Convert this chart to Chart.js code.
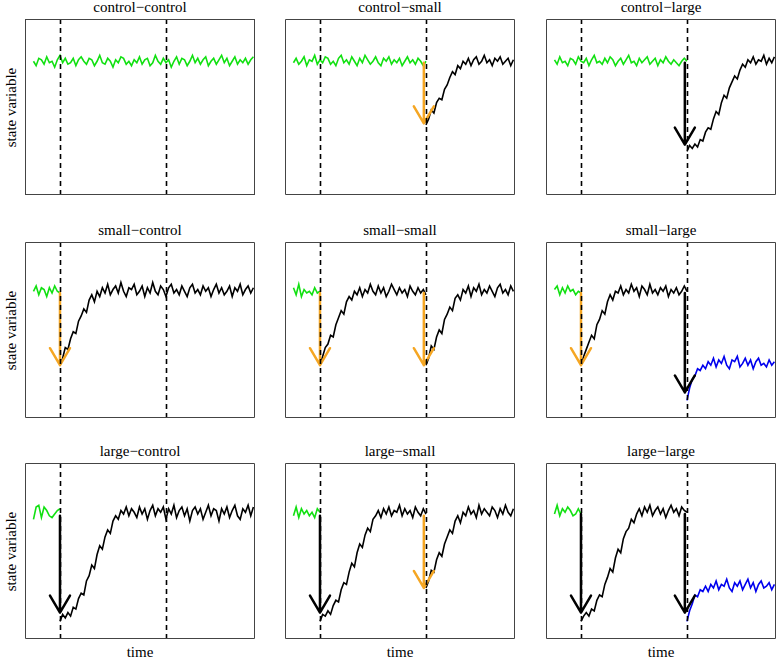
<!DOCTYPE html>
<html>
<head>
<meta charset="utf-8">
<script src="https://cdn.jsdelivr.net/npm/chart.js@4.4.1/dist/chart.umd.min.js"></script>
<style>
  body { margin: 0; background: #fff; }
  #page {
    position: relative; width: 776px; height: 661px; overflow: hidden;
    font-family: 'Liberation Serif', 'DejaVu Serif', serif; color: #000;
  }
  #page canvas { position: absolute; }
  .label { position: absolute; font-size: 15px; line-height: 15px; white-space: nowrap; text-align: center; }
  .ylab { transform: rotate(-90deg); }
</style>
</head>
<body>
<div id="page"></div>
<script>
// sampling of every series (time units); dashed lines mark the two disturbances
const timeStep = 2.5;
const disturbanceTimes = [25, 125];
const xRange = [-8, 209];

// control-control
const ccGreen = [
  0.72,0.69,0.74,0.73,0.70,0.75,0.71,0.72,0.68,0.73,
  0.76,0.71,0.74,0.70,0.71,0.74,0.69,0.73,0.75,0.72,
  0.70,0.74,0.73,0.69,0.72,0.76,0.71,0.70,0.74,0.72,
  0.68,0.73,0.71,0.75,0.74,0.70,0.72,0.69,0.73,0.71,
  0.75,0.70,0.73,0.74,0.69,0.71,0.76,0.72,0.70,0.74,
  0.71,0.73,0.68,0.72,0.75,0.70,0.74,0.73,0.69,0.72,
  0.76,0.71,0.74,0.70,0.73,0.75,0.69,0.72,0.74,0.70,
  0.73,0.76,0.71,0.74,0.69,0.72,0.75,0.70,0.73,0.71,
  0.74,0.70,0.73,0.75];

// control-small
const csGreen = [
  0.71,0.74,0.70,0.72,0.75,0.69,0.73,0.72,0.76,0.70,
  0.73,0.71,0.75,0.74,0.70,0.72,0.69,0.74,0.76,0.71,
  0.73,0.70,0.75,0.72,0.69,0.74,0.71,0.76,0.73,0.70,
  0.72,0.75,0.71,0.69,0.74,0.72,0.75,0.70,0.73,0.71,
  0.74,0.69,0.72,0.75,0.71,0.73,0.70,0.74,0.72,0.69,0.72];
const csBlack = [
  0.29,0.33,0.39,0.37,0.44,0.47,0.46,0.53,0.56,0.61,
  0.65,0.63,0.69,0.67,0.72,0.70,0.74,0.69,0.73,0.75,
  0.70,0.72,0.76,0.71,0.73,0.69,0.74,0.72,0.75,0.70,
  0.72,0.74,0.69,0.73];

// control-large
const clGreen = [
  0.73,0.70,0.75,0.71,0.72,0.69,0.74,0.73,0.70,0.75,
  0.72,0.71,0.74,0.69,0.73,0.76,0.71,0.72,0.70,0.74,
  0.71,0.75,0.73,0.69,0.72,0.74,0.70,0.73,0.76,0.71,
  0.72,0.69,0.74,0.71,0.73,0.75,0.70,0.72,0.74,0.69,
  0.73,0.71,0.75,0.72,0.70,0.73,0.71,0.69,0.72,0.74,0.72];
const clBlack = [
  0.11,0.15,0.13,0.16,0.14,0.19,0.18,0.24,0.27,0.26,
  0.33,0.38,0.36,0.44,0.49,0.47,0.54,0.58,0.62,0.60,
  0.66,0.70,0.68,0.73,0.71,0.75,0.70,0.73,0.72,0.76,
  0.70,0.74,0.71,0.75];

// small-control
const scGreen = [0.72,0.75,0.70,0.74,0.73,0.69,0.74,0.71,0.75,0.72,0.71];
const scBlack = [
  0.30,0.34,0.40,0.39,0.45,0.49,0.48,0.55,0.58,0.62,
  0.60,0.67,0.70,0.66,0.72,0.69,0.74,0.71,0.76,0.70,
  0.73,0.75,0.71,0.77,0.72,0.69,0.74,0.73,0.76,0.70,
  0.72,0.75,0.69,0.74,0.71,0.77,0.72,0.70,0.75,0.73,
  0.69,0.74,0.76,0.71,0.73,0.70,0.75,0.72,0.69,0.74,
  0.76,0.71,0.73,0.70,0.75,0.72,0.74,0.69,0.73,0.76,
  0.71,0.74,0.70,0.72,0.75,0.69,0.74,0.72,0.76,0.70,
  0.73,0.75,0.71,0.74];

// small-small
const ssGreen = [0.74,0.70,0.76,0.69,0.73,0.71,0.72,0.70,0.74,0.71,0.72];
const ssBlack1 = [
  0.30,0.35,0.40,0.42,0.47,0.46,0.53,0.57,0.61,0.59,
  0.66,0.69,0.67,0.72,0.70,0.74,0.69,0.73,0.71,0.76,
  0.72,0.70,0.75,0.71,0.74,0.69,0.72,0.76,0.73,0.70,
  0.74,0.71,0.73,0.69,0.75,0.72,0.70,0.74,0.71,0.73,0.70];
const ssBlack2 = [
  0.30,0.34,0.41,0.39,0.46,0.50,0.48,0.56,0.59,0.63,
  0.61,0.68,0.70,0.67,0.73,0.71,0.75,0.69,0.74,0.72,
  0.76,0.70,0.73,0.71,0.75,0.72,0.69,0.74,0.76,0.71,
  0.73,0.70,0.75,0.72];

// small-large
const slGreen = [0.73,0.75,0.70,0.74,0.71,0.75,0.72,0.73,0.70,0.72,0.71];
const slBlack = [
  0.30,0.35,0.39,0.43,0.47,0.45,0.53,0.56,0.61,0.59,
  0.66,0.70,0.67,0.72,0.71,0.75,0.70,0.73,0.71,0.76,
  0.72,0.74,0.69,0.75,0.73,0.70,0.76,0.71,0.73,0.70,
  0.74,0.72,0.75,0.69,0.73,0.71,0.74,0.70,0.72,0.75,0.72];
const slBlue = [
  0.10,0.17,0.22,0.24,0.28,0.27,0.30,0.28,0.32,0.30,
  0.34,0.29,0.33,0.31,0.35,0.30,0.28,0.33,0.32,0.35,
  0.29,0.31,0.34,0.30,0.33,0.28,0.32,0.34,0.30,0.31,
  0.29,0.33,0.30,0.32];

// large-control
const lcGreen = [0.68,0.75,0.76,0.69,0.75,0.73,0.70,0.69,0.71,0.73,0.74];
const lcBlack = [
  0.10,0.14,0.12,0.15,0.13,0.18,0.17,0.23,0.26,0.25,
  0.33,0.36,0.42,0.40,0.48,0.53,0.51,0.58,0.62,0.60,
  0.67,0.70,0.68,0.73,0.71,0.75,0.70,0.74,0.72,0.69,
  0.75,0.71,0.74,0.68,0.73,0.76,0.70,0.74,0.72,0.75,
  0.68,0.74,0.71,0.76,0.69,0.73,0.75,0.70,0.74,0.67,
  0.73,0.75,0.71,0.74,0.68,0.72,0.76,0.70,0.74,0.73,
  0.67,0.74,0.71,0.75,0.69,0.73,0.76,0.70,0.68,0.74,
  0.72,0.76,0.70,0.75];

// large-small
const lsGreen = [0.70,0.75,0.69,0.74,0.71,0.73,0.70,0.72,0.69,0.74,0.72];
const lsBlack1 = [
  0.10,0.14,0.13,0.16,0.14,0.19,0.22,0.21,0.28,0.32,
  0.31,0.38,0.43,0.41,0.49,0.54,0.52,0.59,0.63,0.61,
  0.68,0.70,0.73,0.69,0.74,0.71,0.75,0.70,0.73,0.72,
  0.76,0.70,0.74,0.71,0.73,0.69,0.75,0.72,0.70,0.74,0.71];
const lsBlack2 = [
  0.29,0.33,0.39,0.38,0.45,0.49,0.47,0.54,0.58,0.62,
  0.60,0.67,0.70,0.66,0.72,0.70,0.75,0.71,0.73,0.69,
  0.76,0.71,0.74,0.72,0.70,0.75,0.73,0.69,0.74,0.71,
  0.76,0.72,0.70,0.74];

// large-large
const llGreen = [0.71,0.76,0.70,0.74,0.72,0.75,0.73,0.70,0.71,0.74,0.71];
const llBlack = [
  0.10,0.13,0.15,0.13,0.17,0.16,0.22,0.25,0.24,0.31,
  0.35,0.40,0.38,0.46,0.51,0.49,0.57,0.61,0.63,0.68,
  0.66,0.71,0.74,0.70,0.75,0.72,0.76,0.70,0.73,0.75,
  0.71,0.74,0.69,0.73,0.76,0.72,0.74,0.70,0.75,0.73,0.72];
const llBlue = [
  0.10,0.16,0.20,0.25,0.24,0.28,0.27,0.30,0.27,0.31,
  0.29,0.33,0.28,0.31,0.30,0.34,0.29,0.27,0.32,0.30,
  0.33,0.28,0.31,0.34,0.29,0.32,0.27,0.31,0.33,0.29,
  0.30,0.32,0.28,0.31];

// disturbance arrows: time, state before, state after, size
const csArrows = [{ t: 123, from: 0.71, to: 0.30, size: 'small' }];
const clArrows = [{ t: 123, from: 0.71, to: 0.156, size: 'large' }];
const scArrows = [{ t: 25, from: 0.71, to: 0.30, size: 'small' }];
const ssArrows = [{ t: 25, from: 0.71, to: 0.30, size: 'small' }, { t: 123, from: 0.71, to: 0.30, size: 'small' }];
const slArrows = [{ t: 25, from: 0.71, to: 0.30, size: 'small' }, { t: 123, from: 0.71, to: 0.145, size: 'large' }];
const lcArrows = [{ t: 25, from: 0.70, to: 0.15, size: 'large' }];
const lsArrows = [{ t: 25, from: 0.70, to: 0.15, size: 'large' }, { t: 123, from: 0.70, to: 0.29, size: 'small' }];
const llArrows = [{ t: 25, from: 0.71, to: 0.15, size: 'large' }, { t: 123, from: 0.71, to: 0.15, size: 'large' }];

const GREEN = '#11e011';
const BLACK = '#000000';
const BLUE = '#0000ee';
const arrowColors = { small: '#f5a623', large: '#000000' };

// top row was plotted with a lower y limit
const yRanges = [[-0.185, 1.006], [0, 1], [0, 1]];

// segment: [values, start time, colour]
const panels = [
  { title: 'control\u2212control', segs: [[ccGreen, 0, GREEN]], arrows: [] },
  { title: 'control\u2212small', segs: [[csGreen, 0, GREEN], [csBlack, 125, BLACK]], arrows: csArrows },
  { title: 'control\u2212large', segs: [[clGreen, 0, GREEN], [clBlack, 125, BLACK]], arrows: clArrows },
  { title: 'small\u2212control', segs: [[scGreen, 0, GREEN], [scBlack, 25, BLACK]], arrows: scArrows },
  { title: 'small\u2212small', segs: [[ssGreen, 0, GREEN], [ssBlack1, 25, BLACK], [ssBlack2, 125, BLACK]], arrows: ssArrows },
  { title: 'small\u2212large', segs: [[slGreen, 0, GREEN], [slBlack, 25, BLACK], [slBlue, 125, BLUE]], arrows: slArrows },
  { title: 'large\u2212control', segs: [[lcGreen, 0, GREEN], [lcBlack, 25, BLACK]], arrows: lcArrows },
  { title: 'large\u2212small', segs: [[lsGreen, 0, GREEN], [lsBlack1, 25, BLACK], [lsBlack2, 125, BLACK]], arrows: lsArrows },
  { title: 'large\u2212large', segs: [[llGreen, 0, GREEN], [llBlack, 25, BLACK], [llBlue, 125, BLUE]], arrows: llArrows }
];

// layout of the 3x3 grid (box outer edges in px)
const colLeft = [25, 285, 546];
const rowTop = [19, 242, 463];
const boxW = 230, boxH = 176;

// arrows, dashed disturbance lines and the box, drawn over the series
const panelDecor = {
  id: 'panelDecor',
  afterDatasetsDraw(chart, args, opts) {
    const { ctx, chartArea, scales: { x, y } } = chart;
    ctx.save();

    opts.arrows.forEach(a => {
      const px = x.getPixelForValue(a.t);
      const y0 = y.getPixelForValue(a.from);
      const y1 = y.getPixelForValue(a.to);
      ctx.strokeStyle = arrowColors[a.size];
      ctx.lineWidth = 2.5;
      ctx.lineCap = 'round';
      ctx.lineJoin = 'round';
      ctx.beginPath();
      ctx.moveTo(px, y0);
      ctx.lineTo(px, y1);
      ctx.moveTo(px - 10, y1 - 17);
      ctx.lineTo(px, y1);
      ctx.lineTo(px + 10, y1 - 17);
      ctx.stroke();
    });

    ctx.strokeStyle = '#000';
    ctx.lineWidth = 1.6;
    ctx.lineCap = 'butt';
    ctx.setLineDash([5, 4]);
    disturbanceTimes.forEach(t => {
      const px = Math.round(x.getPixelForValue(t)) + 0.5;
      ctx.beginPath();
      ctx.moveTo(px, chartArea.top);
      ctx.lineTo(px, chartArea.bottom);
      ctx.stroke();
    });

    ctx.setLineDash([]);
    ctx.strokeStyle = '#444';
    ctx.lineWidth = 1;
    ctx.strokeRect(chartArea.left + 0.5, chartArea.top + 0.5,
      chartArea.right - chartArea.left - 1, chartArea.bottom - chartArea.top - 1);
    ctx.restore();
  }
};

function addLabel(page, text, left, top, width, cls) {
  const el = document.createElement('div');
  el.className = 'label' + (cls ? ' ' + cls : '');
  el.textContent = text;
  el.style.left = left + 'px';
  el.style.top = top + 'px';
  el.style.width = width + 'px';
  page.appendChild(el);
}

function buildPanel(page, panel, idx) {
  const row = Math.floor(idx / 3), col = idx % 3;
  const left = colLeft[col], top = rowTop[row];

  const canvas = document.createElement('canvas');
  canvas.width = boxW;
  canvas.height = boxH;
  canvas.style.left = left + 'px';
  canvas.style.top = top + 'px';
  page.appendChild(canvas);

  addLabel(page, panel.title, left - 35, top - 19, boxW + 70);
  if (col === 0) addLabel(page, 'state variable', 11 - 60, top + boxH / 2 - 7.5, 120, 'ylab');
  if (row === 2) addLabel(page, 'time', left, 645, boxW);

  const datasets = panel.segs.map(([values, start, color]) => ({
    data: values.map((v, i) => ({ x: start + i * timeStep, y: v })),
    borderColor: color,
    borderWidth: 1.6,
    pointRadius: 0,
    tension: 0,
    fill: false
  }));

  new Chart(canvas.getContext('2d'), {
    type: 'line',
    data: { datasets },
    options: {
      responsive: false,
      maintainAspectRatio: false,
      animation: false,
      layout: { padding: 0 },
      plugins: {
        legend: { display: false },
        tooltip: { enabled: false },
        panelDecor: { arrows: panel.arrows }
      },
      scales: {
        x: { type: 'linear', min: xRange[0], max: xRange[1], display: false },
        y: { type: 'linear', min: yRanges[row][0], max: yRanges[row][1], display: false }
      }
    },
    plugins: [panelDecor]
  });
}

const page = document.getElementById('page');
panels.forEach((p, i) => buildPanel(page, p, i));
</script>
</body>
</html>
